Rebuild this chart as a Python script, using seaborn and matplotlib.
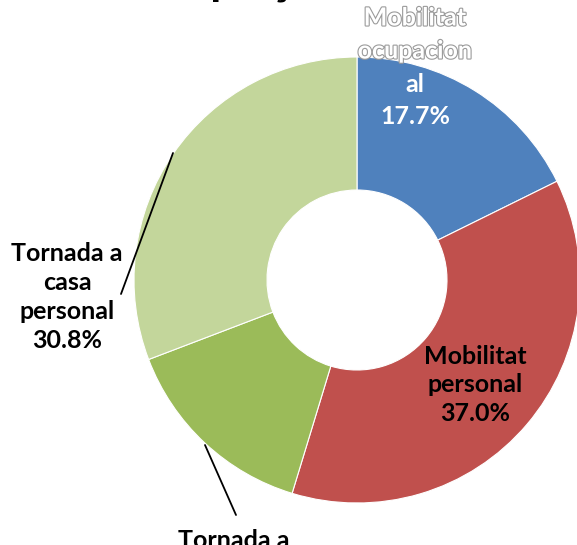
import matplotlib
matplotlib.use("Agg")
import matplotlib.pyplot as plt
import matplotlib.patheffects as pe
import seaborn as sns

# data
categories = ["Mobilitat ocupacional", "Mobilitat personal", "Tornada a la feina", "Tornada a casa personal"]
shares = [17.7, 37.0, 14.5, 30.8]
colors = ["#4F81BD", "#C0504D", "#9BBB59", "#C3D69B"]
title = "Motius de desplaçament"

W, H = 577, 545


def py(y):
    # pixel row (from top) -> data y
    return H - y


sns.set_theme(style="white")
plt.rcParams['font.family'] = ['Lato', 'DejaVu Sans']

fig = plt.figure(figsize=(W / 100, H / 100), dpi=100)
fig.patch.set_facecolor('white')
ax = fig.add_axes([0, 0, 1, 1])

ax.pie(shares, colors=colors, startangle=90, counterclock=False,
       center=(357, py(280)), radius=223, frame=True,
       wedgeprops=dict(width=133, edgecolor='white', linewidth=0.8))
ax.set_xlim(0, W)
ax.set_ylim(0, H)
ax.set_aspect('equal')
ax.axis('off')

fs = 18
bold = dict(fontsize=fs, fontweight='bold', ha='center', va='center')

# title, mostly cropped above the top edge; line up the "p" near x=210
renderer = fig.canvas.get_renderer()
probe = fig.text(0, 0, "Motius de des", fontsize=32, fontweight='bold')
w_prefix = probe.get_window_extent(renderer).width
probe.remove()
ax.text(210 - w_prefix, py(-5), title, fontsize=32, fontweight='bold',
        color='black', ha='left', va='baseline')

# Mobilitat ocupacional (outlined white text above the slice)
outline = [pe.withStroke(linewidth=1.6, foreground='#9a9a9a')]
ax.text(415, py(18), "Mobilitat", color='white', path_effects=outline, **bold)
ax.text(415, py(51), "ocupacion", color='white', path_effects=outline, **bold)
ax.text(415, py(84), "al", color='white', **bold)
ax.text(415, py(116), f"{shares[0]:.1f}%", color='white', **bold)

# Mobilitat personal
ax.text(475, py(385), f"Mobilitat\npersonal\n{shares[1]:.1f}%", color='black',
        linespacing=1.3, **bold)

# Tornada a casa personal
ax.text(67, py(297), f"Tornada a\ncasa\npersonal\n{shares[3]:.1f}%", color='black',
        linespacing=1.3, **bold)
ax.plot([173, 121], [py(153), py(294)], color='black', lw=1.3)

# Tornada a (cropped at bottom)
ax.text(234, py(541), "Tornada a", color='black', **bold)
ax.plot([205, 236], [py(445), py(515)], color='black', lw=1.3)

fig.savefig("out.png", dpi=100)
